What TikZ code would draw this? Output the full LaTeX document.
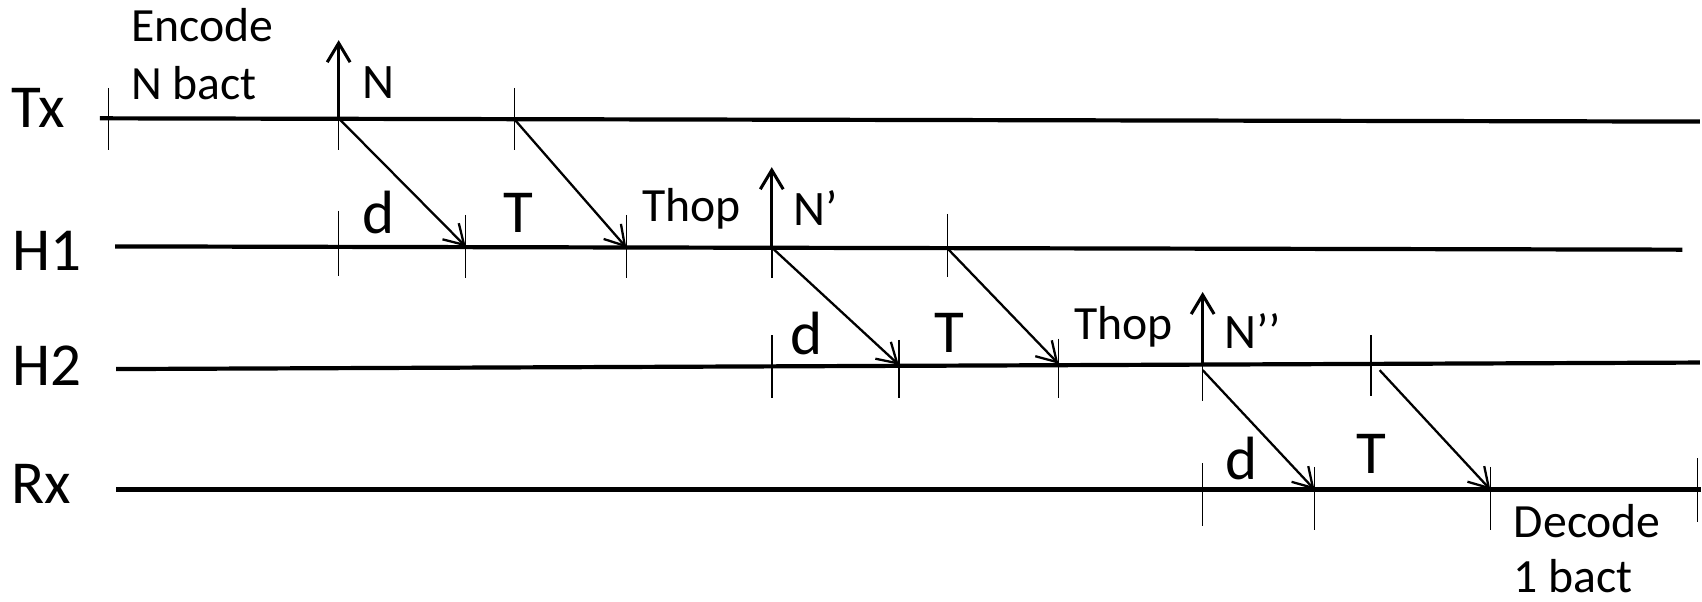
\documentclass[tikz,border=0pt]{standalone}
\usepackage{fontspec}
\setmainfont{Carlito}
\usetikzlibrary{arrows.meta}
\begin{document}
\begin{tikzpicture}[x=0.01cm,y=-0.01cm,
  rowlbl/.style={font=\fontsize{16pt}{19pt}\selectfont, inner sep=0pt, anchor=base west},
  smalllbl/.style={font=\fontsize{12.5pt}{14pt}\selectfont, inner sep=0pt, anchor=base west},
  intlbl/.style={font=\fontsize{16pt}{19pt}\selectfont, inner sep=0pt, anchor=base west},
  nlbl/.style={font=\fontsize{13pt}{15pt}\selectfont, inner sep=0pt, anchor=base west},
  timeline/.style={line width=1.1pt},
  tickline/.style={line width=0.4pt},
  msg/.style={line width=0.6pt, -{Straight Barb[length=5pt,width=6pt]}},
  evt/.style={line width=0.8pt, -{Straight Barb[length=5pt,width=6pt]}}]
\useasboundingbox (0,0) rectangle (1568,554);

% row labels
\node[rowlbl] (tx) at (10,117) {Tx};
\node[rowlbl] (h1) at (11,249) {H1};
\node[rowlbl] (h2) at (11,355) {H2};
\node[rowlbl] (rx) at (10,464) {Rx};

% time lines
\coordinate (txL) at (92,109);   \coordinate (txR) at (1566,112);
\coordinate (h1L) at (106,227);  \coordinate (h1R) at (1550,230);
\coordinate (h2L) at (107,340);  \coordinate (h2R) at (1566,334);
\coordinate (rxL) at (107,451);  \coordinate (rxR) at (1567,451);
\draw[timeline] (txL) -- (txR);
\draw[timeline] (h1L) -- (h1R);
\draw[timeline] (h2L) -- (h2R);
\draw[timeline] (rxL) -- (rxR);

% ticks on Tx
\coordinate (ta0) at (100,81);  \coordinate (tb0) at (100,138);
\coordinate (ta1) at (312,109); \coordinate (tb1) at (312,138);
\coordinate (ta2) at (474,81);  \coordinate (tb2) at (474,138);
\draw[tickline] (ta0) -- (tb0);
\draw[tickline] (ta1) -- (tb1);
\draw[tickline] (ta2) -- (tb2);
% ticks on H1
\coordinate (ha1) at (312,194); \coordinate (hb1) at (312,254);
\coordinate (ha2) at (429,198); \coordinate (hb2) at (429,256);
\coordinate (ha3) at (577,198); \coordinate (hb3) at (577,256);
\coordinate (ha4) at (711,228); \coordinate (hb4) at (711,256);
\coordinate (ha5) at (873,197); \coordinate (hb5) at (873,255);
\foreach \i in {1,...,5} \draw[tickline] (ha\i) -- (hb\i);
% ticks on H2
\coordinate (ga1) at (711,309);  \coordinate (gb1) at (711,367);
\coordinate (ga2) at (828,313);  \coordinate (gb2) at (828,367);
\coordinate (ga3) at (975,312);  \coordinate (gb3) at (975,367);
\coordinate (ga4) at (1108,335); \coordinate (gb4) at (1108,369);
\coordinate (ga5) at (1263,309); \coordinate (gb5) at (1263,365);
\foreach \i in {1,...,5} \draw[tickline] (ga\i) -- (gb\i);
% ticks on Rx
\coordinate (ra1) at (1108,427); \coordinate (rb1) at (1108,485);
\coordinate (ra2) at (1211,430); \coordinate (rb2) at (1211,488);
\coordinate (ra3) at (1373,430); \coordinate (rb3) at (1373,488);
\coordinate (ra4) at (1564,422); \coordinate (rb4) at (1564,481);
\foreach \i in {1,...,4} \draw[tickline] (ra\i) -- (rb\i);

% event arrows (upward)
\coordinate (nTop) at (312,37);
\coordinate (n1Top) at (711,154);
\coordinate (n2Top) at (1108,269);
\coordinate (n2Bot) at (1108,336);
\draw[evt] (ta1) -- (nTop);
\draw[evt] (ha4) -- (n1Top);
\draw[evt] (n2Bot) -- (n2Top);

% message arrows (diagonal)
\coordinate (m5s) at (1108,341);
\coordinate (m6s) at (1271,341);
\coordinate (h1a) at (429,227);
\coordinate (h1b) at (577,228);
\coordinate (h2a) at (828,336);
\coordinate (h2b) at (975,335);
\coordinate (rxa) at (1211,451);
\coordinate (rxb) at (1373,451);
\coordinate (tx2) at (474,110);
\coordinate (h15) at (873,229);
\draw[msg] (ta1) -- (h1a);
\draw[msg] (tx2) -- (h1b);
\draw[msg] (ha4) -- (h2a);
\draw[msg] (h15) -- (h2b);
\draw[msg] (m5s) -- (rxa);
\draw[msg] (m6s) -- (rxb);

% labels
\node[smalllbl] (enc1) at (120,38) {Encode};
\node[smalllbl] (enc2) at (120,92) {N bact};
\node[nlbl] (nN) at (333,91) {N};
\node[intlbl] (d1) at (333,215) {d};
\node[intlbl] (T1) at (463,214) {T};
\node[smalllbl] (thop1) at (591,204) {Thop};
\node[nlbl] (nN1) at (730,208) {N’};
\node[intlbl] (d2) at (728,327) {d};
\node[intlbl] (T2) at (860,325) {T};
\node[smalllbl] (thop2) at (989,313) {Thop};
\node[nlbl] (nN2) at (1127,321) {N’’};
\node[intlbl] (d3) at (1128,442) {d};
\node[intlbl] (T3) at (1249,436) {T};
\node[smalllbl] (dec1) at (1394,495) {Decode};
\node[smalllbl] (dec2) at (1394,546) {1 bact};
\end{tikzpicture}
\end{document}
